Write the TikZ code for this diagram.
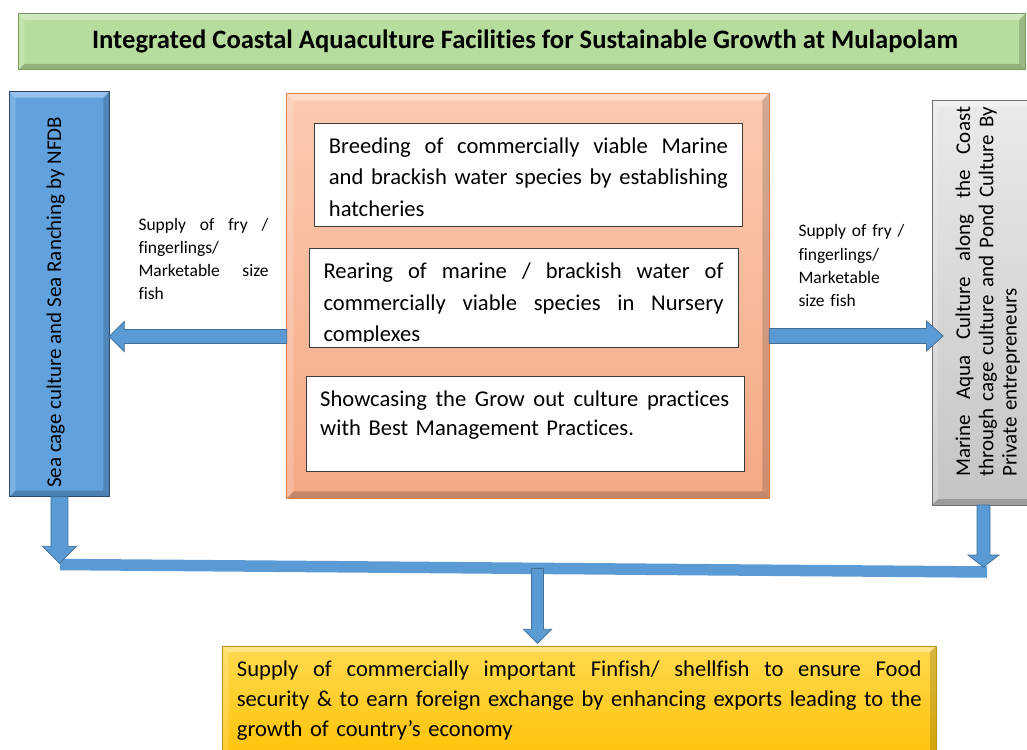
\documentclass[tikz,border=0pt]{standalone}
\usepackage{fontspec}
\setmainfont{Carlito}[Ligatures=NoCommon]
\usetikzlibrary{calc}

\definecolor{titlegreen}{RGB}{183,221,158}
\definecolor{titleedge}{RGB}{118,158,88}
\definecolor{sideblue}{RGB}{96,161,222}
\definecolor{sideedge}{RGB}{40,72,108}
\definecolor{hubtop}{RGB}{251,202,176}
\definecolor{hubbottom}{RGB}{246,168,132}
\definecolor{hubedge}{RGB}{226,128,76}
\definecolor{greytop}{RGB}{234,234,234}
\definecolor{greybottom}{RGB}{196,196,196}
\definecolor{greyedge}{RGB}{110,110,110}
\definecolor{goaltop}{RGB}{255,217,78}
\definecolor{goalbottom}{RGB}{255,192,0}
\definecolor{goaledge}{RGB}{186,146,28}
\definecolor{cardedge}{RGB}{60,60,60}
\definecolor{arrowblue}{RGB}{91,155,213}
\definecolor{arrowedge}{RGB}{65,113,156}

% one justified line of a given width: the word gaps share the slack equally
\newcommand{\jl}[2]{\leavevmode\hbox to #1{\spaceskip=\fontdimen2\font plus 1fil\relax #2}}

% bevelled edges of a panel: light top/left, dark right/bottom
\newcommand{\bevel}[2]{%
  \fill[white,opacity=0.35] (#1.north west) -- (#1.north east) -- ($(#1.north east)+(-#2,#2)$) -- ($(#1.north west)+(#2,#2)$) -- cycle;
  \fill[white,opacity=0.18] (#1.north west) -- ($(#1.north west)+(#2,#2)$) -- ($(#1.south west)+(#2,-#2)$) -- (#1.south west) -- cycle;
  \fill[black,opacity=0.16] (#1.north east) -- ($(#1.north east)+(-#2,#2)$) -- ($(#1.south east)+(-#2,-#2)$) -- (#1.south east) -- cycle;
  \fill[black,opacity=0.20] (#1.south west) -- ($(#1.south west)+(#2,-#2)$) -- ($(#1.south east)+(-#2,-#2)$) -- (#1.south east) -- cycle;
}

% block arrow: from, to, shaft half width, head half width, head length
\newcommand{\blockarrow}[5]{%
  \coordinate (ba-c) at ($(#2)!#5!(#1)$);
  \draw[arrowstyle] ($(#1)!#3!90:(#2)$) -- ($(ba-c)!#3!90:(#2)$) -- ($(ba-c)!#4!90:(#2)$)
    -- (#2) -- ($(ba-c)!#4!-90:(#2)$) -- ($(ba-c)!#3!-90:(#2)$) -- ($(#1)!#3!-90:(#2)$) -- cycle;
}

\tikzset{
  boxbase/.style={inner sep=0pt, outer sep=0pt},
  titlebox/.style={boxbase, fill=titlegreen},
  sidebox/.style={boxbase, fill=sideblue},
  hubbox/.style={boxbase, top color=hubtop, bottom color=hubbottom},
  privbox/.style={boxbase, top color=greytop, bottom color=greybottom},
  goalbox/.style={boxbase, top color=goaltop, bottom color=goalbottom},
  stepcard/.style={boxbase, fill=white, draw=cardedge, line width=0.9pt},
  bodytext/.style={anchor=base west, inner sep=0pt, align=left, font=\fontsize{22.6}{31.5}\selectfont},
  notetext/.style={anchor=base west, inner sep=0pt, align=left, font=\fontsize{17.5}{23.3}\selectfont},
  sidetext/.style={anchor=base west, inner sep=0pt, rotate=90, align=left, font=\fontsize{21}{23.3}\selectfont},
  arrowstyle/.style={fill=arrowblue, draw=arrowedge, line width=0.8pt, line join=miter},
  busbar/.style={draw=arrowblue, line width=11.5pt},
}

\begin{document}
\begin{tikzpicture}[x=1pt,y=-1pt]
\useasboundingbox (0,0) rectangle (1027,749);

% title banner
\node[titlebox, minimum width=1006.7pt, minimum height=56pt] (T) at (521.65,42) {};
\bevel{T}{6}
\draw[titleedge, line width=1pt] (T.north west) rectangle (T.south east);
\node[anchor=base, inner sep=0pt, font=\bfseries\fontsize{26.6}{30}\selectfont] (Ttext) at (525,48.8)
  {Integrated Coastal Aquaculture Facilities for Sustainable Growth at Mulapolam};

% left panel
\node[sidebox, minimum width=99.8pt, minimum height=405pt] (L) at (59.4,294.2) {};
\bevel{L}{6}
\draw[sideedge, line width=1pt] (L.north west) rectangle (L.south east);
\node[sidetext, font=\fontsize{21}{25}\selectfont] (Ltext) at (61,488) {Sea cage culture and Sea Ranching by NFDB};

% central hub
\node[hubbox, minimum width=482.6pt, minimum height=405pt] (C) at (528,295.8) {};
\bevel{C}{7}
\draw[hubedge, line width=1pt] (C.north west) rectangle (C.south east);

\node[stepcard, minimum width=428.3pt, minimum height=102.3pt] (I1) at (528.15,174.85) {};
\node[bodytext, text width=399pt] (I1text) at (328.7,153.3)
  {\jl{399pt}{Breeding of commercially viable Marine}\\\jl{399pt}{and brackish water species by establishing}\\hatcheries};

\node[stepcard, minimum width=428.6pt, minimum height=99.3pt] (I2) at (524,297.65) {};
\begin{scope}
  \clip ($(I2.north west)+(1,1)$) rectangle ($(I2.south east)+(-1,-6)$);
  \node[bodytext, text width=400pt, font=\fontsize{22.6}{31.7}\selectfont] (I2text) at (323.3,278.3)
    {\jl{400pt}{Rearing of marine / brackish water of}\\\jl{400pt}{commercially viable species in Nursery}\\complexes};
\end{scope}

\node[stepcard, minimum width=437.6pt, minimum height=95pt] (I3) at (525.5,423.5) {};
\node[bodytext, text width=409pt, font=\fontsize{22.6}{29}\selectfont] (I3text) at (320,406.7)
  {\jl{409pt}{Showcasing the Grow out culture practices}\\with Best Management Practices.};

% right panel
\node[privbox, minimum width=103pt, minimum height=404.3pt] (R) at (983.5,302.85) {};
\bevel{R}{6}
\draw[greyedge, line width=1pt] (R.north west) rectangle (R.south east);
\node[sidetext, text width=370pt] (Rtext) at (970,477)
  {\jl{370pt}{Marine Aqua Culture along the Coast}\\\jl{370pt}{through cage culture and Pond Culture By}\\Private entrepreneurs};

% arrow labels
\node[notetext, text width=130pt] (Lnote) at (138.3,230)
  {\jl{130pt}{Supply of fry /}\\fingerlings/\\\jl{130pt}{Marketable size}\\fish};
\node[notetext, text width=110pt] (Rnote) at (798.3,236.7)
  {Supply of fry /\\fingerlings/\\Marketable\\size fish};

% goal panel
\node[goalbox, minimum width=713.3pt, minimum height=124pt] (G) at (579.35,708) {};
\bevel{G}{6}
\draw[goaledge, line width=1pt] (G.north west) rectangle (G.south east);
\node[bodytext, text width=684.7pt, font=\fontsize{22.6}{30}\selectfont] (Gtext) at (236.7,676.7)
  {\jl{684.7pt}{Supply of commercially important Finfish/ shellfish to ensure Food}\\\jl{684.7pt}{security \& to earn foreign exchange by enhancing exports leading to the}\\growth of country’s economy};

% supply arrows
\coordinate (aL0) at (C.west |- 0,336.5);
\coordinate (aL1) at (L.east |- 0,336.5);
\blockarrow{aL0}{aL1}{7pt}{15pt}{15pt}
\coordinate (aR0) at (C.east |- 0,336);
\coordinate (aR1) at ($(R.west |- 0,336)+(11,0)$);
\blockarrow{aR0}{aR1}{7.5pt}{15pt}{16.5pt}

% collecting bus and final arrow
\coordinate (barL) at (60,564.5);
\coordinate (barR) at (987,572);
\draw[busbar] (barL) -- (barR);
\coordinate (dL1) at (L.south |- 0,563.3);
\blockarrow{L.south}{dL1}{8.5pt}{17pt}{17pt}
\coordinate (dR1) at (R.south |- 0,567);
\blockarrow{R.south}{dR1}{6.5pt}{15.5pt}{12pt}
\coordinate (mTop) at ($(barL)!0.515!(barR)$);
\coordinate (mTip) at ($(G.north -| mTop)+(0,-2.7)$);
\blockarrow{mTop}{mTip}{6pt}{14pt}{14pt}
\end{tikzpicture}
\end{document}
